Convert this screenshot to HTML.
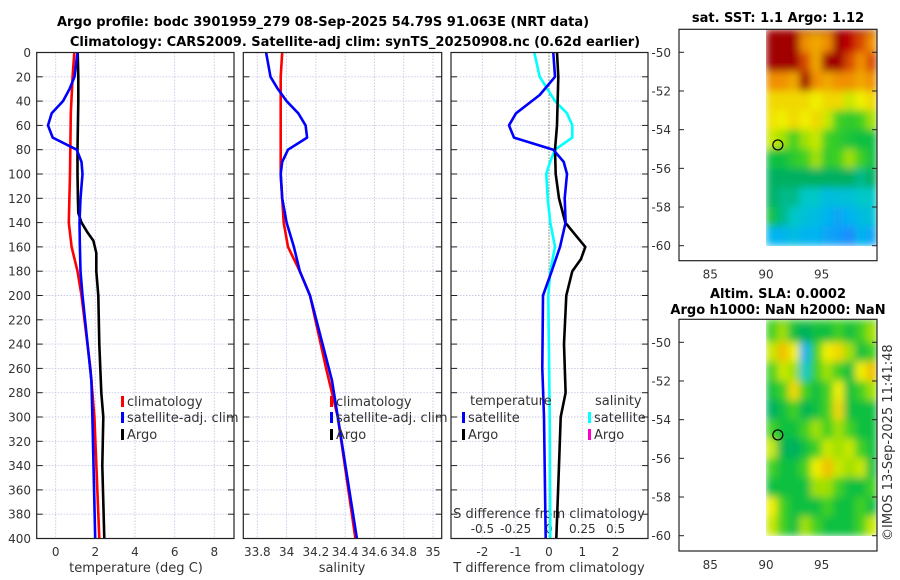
<!DOCTYPE html>
<html><head><meta charset="utf-8"><style>
html,body{margin:0;padding:0;background:#fff;}
svg{display:block;font-family:"DejaVu Sans","Liberation Sans",sans-serif;}
.tk{font-size:12px;fill:#333;}
.lb{font-size:13px;fill:#333;}
.tt{font-size:13px;font-weight:bold;fill:#000;}
.grid{stroke:#c6c8e6;stroke-width:0.9;stroke-dasharray:1.5,1.5;}
</style></head><body>
<svg id="fig" width="900" height="580" viewBox="0 0 900 580" xmlns="http://www.w3.org/2000/svg">
<defs>
<filter id="smooth" x="0" y="0" width="1" height="1" filterUnits="objectBoundingBox">
<feGaussianBlur stdDeviation="4" edgeMode="duplicate"/>
</filter>
</defs>
<text class="tt" x="323" y="26" text-anchor="middle">Argo profile: bodc 3901959_279 08-Sep-2025 54.79S 91.063E (NRT data)</text>
<text class="tt" x="355" y="46" text-anchor="middle">Climatology: CARS2009. Satellite-adj clim: synTS_20250908.nc (0.62d earlier)</text>
<g id="layer"></g>
<text class="tt" x="778" y="22" text-anchor="middle">sat. SST: 1.1 Argo: 1.12</text>
<text class="tt" x="778" y="298" text-anchor="middle">Altim. SLA: 0.0002</text>
<text class="tt" x="778" y="314" text-anchor="middle">Argo h1000: NaN h2000: NaN</text>
<text class="lb" x="0" y="0" transform="translate(892,541) rotate(-90)">©IMOS 13-Sep-2025 11:41:48</text>
</svg>
<script>
// ---- data ----
const depthTicks = [0,20,40,60,80,100,120,140,160,180,200,220,240,260,280,300,320,340,360,380,400];
const tempTicks = [0,2,4,6,8];
const salTicks = [33.8,34,34.2,34.4,34.6,34.8,35];
const salTickLabels = ["33.8","34","34.2","34.4","34.6","34.8","35"];
const tdiffTicks = [-2,-1,0,1,2];
const sdiffTicks = [-0.5,-0.25,0,0.25,0.5];
const sdiffTickLabels = ["-0.5","-0.25","0","0.25","0.5"];

const argoDepth = [0,20,40,60,80,100,120,132,140,148,155,165,180,200,240,280,300,340,400];
const argoTemp  = [1.11,1.14,1.14,1.12,1.1,1.1,1.12,1.14,1.3,1.6,1.9,2.05,2.05,2.15,2.2,2.3,2.4,2.35,2.45];

const climDepth = [0,20,50,100,140,160,180,200,260,300,400];
const climTemp  = [0.94,0.85,0.76,0.72,0.66,0.8,1.1,1.3,1.75,1.95,2.2];
const climSal   = [33.97,33.96,33.96,33.96,33.98,34.01,34.09,34.16,34.27,34.35,34.47];

const satDepth = [0,20,30,40,50,60,70,80,90,100,120,140,160,180,200,270,300,400];
const satTemp  = [1.1,0.95,0.7,0.37,-0.2,-0.39,-0.15,1.06,1.3,1.35,1.25,1.2,1.22,1.25,1.35,1.8,1.85,1.99];
const satSal   = [33.86,33.89,33.94,34.0,34.08,34.13,34.14,34.01,33.97,33.96,33.97,34.0,34.05,34.09,34.16,34.31,34.35,34.48];

const tdiffDepth = [0,20,35,50,60,70,80,90,100,120,140,160,180,200,260,300,400];
const satTdiff  = [0.13,0.18,-0.28,-0.99,-1.2,-1.05,0.13,0.44,0.54,0.47,0.5,0.33,0.08,-0.18,-0.2,-0.15,-0.1];
const argoTdiffDepth = [0,20,60,80,100,120,140,150,160,170,180,200,240,280,300,340,400];
const argoTdiff = [0.24,0.28,0.24,0.18,0.2,0.3,0.49,0.79,1.09,0.96,0.7,0.52,0.45,0.5,0.35,0.3,0.22];
const sdiffDepth = [0,20,40,50,60,70,80,90,100,120,140,160,180,200,300,400];
const satSdiff = [-0.11,-0.07,0.045,0.135,0.175,0.175,0.045,0.008,-0.02,-0.01,0.01,0.045,0.01,-0.005,0.005,0.01];

const mapLons = [90,91,92,93,94,95,96,97,98,99];
const mapLats = [-49,-50,-51,-52,-53,-54,-55,-56,-57,-58,-59];
const sstGrid = [
 [1,1,1,.85,.8,.85,1,.95,.9,.85],
 [1,1,1,.9,.8,1,1,.9,.85,.9],
 [.85,.85,.8,1,.85,.8,.85,.85,.8,.85],
 [.7,.7,.7,.7,.65,.7,.7,.6,.65,.7],
 [.68,.65,.7,.65,.7,.6,.5,.48,.5,.55],
 [.6,.55,.5,.55,.6,.5,.48,.46,.45,.45],
 [.45,.45,.48,.5,.55,.48,.5,.55,.5,.45],
 [.4,.4,.4,.4,.4,.4,.4,.4,.38,.4],
 [.4,.38,.38,.35,.35,.32,.33,.33,.35,.35],
 [.45,.38,.35,.33,.32,.3,.28,.3,.32,.33],
 [.3,.3,.32,.3,.3,.28,.27,.25,.3,.28]];
const slaGrid = [
 [.5,.55,.45,.4,.45,.45,.5,.45,.5,.55],
 [.6,.75,.65,.3,.5,.65,.7,.55,.45,.5],
 [.5,.6,.55,.35,.5,.55,.5,.45,.65,.75],
 [.45,.5,.7,.5,.45,.5,.65,.45,.5,.55],
 [.4,.45,.5,.42,.45,.5,.7,.45,.45,.45],
 [.5,.45,.45,.5,.55,.5,.55,.5,.45,.45],
 [.6,.42,.4,.45,.5,.6,.55,.6,.5,.45],
 [.5,.45,.45,.5,.65,.75,.6,.55,.6,.45],
 [.45,.45,.45,.45,.55,.55,.5,.45,.45,.5],
 [.65,.5,.45,.45,.45,.5,.45,.45,.5,.45],
 [.6,.5,.45,.55,.5,.45,.45,.45,.5,.6]];
const floatLon = 91.063, floatLat = -54.79;
const mapLatTicks = [-50,-52,-54,-56,-58,-60];
const mapLonTicks = [85,90,95];

// ---- helpers ----
const NS="http://www.w3.org/2000/svg";
const L=document.getElementById('layer');
function mk(tag,attrs,parent){const e=document.createElementNS(NS,tag);for(const k in attrs)e.setAttribute(k,attrs[k]);(parent||L).appendChild(e);return e;}
const yTop=52.5, yBot=538.5;
const yD = d => yTop + (d/400)*(yBot-yTop);
function lin(d0,d1,r0,r1){return v=>r0+(v-d0)/(d1-d0)*(r1-r0);}

const panels=[
 {name:'temperature-panel',x0:36.7,x1:234,sx:lin(0,8,55.7,214.3),grid:tempTicks},
 {name:'salinity-panel',x0:243.3,x1:441.7,sx:lin(33.8,35,257.3,433),grid:salTicks},
 {name:'difference-panel',x0:451,x1:648,sx:lin(0,1,549,582.3),grid:tdiffTicks}
];
panels.forEach((p,i)=>{
  const g=mk('g',{});
  
  
  p.g=g;
  p.grid.forEach(v=>{const l=mk('line',{x1:p.sx(v),x2:p.sx(v),y1:yTop,y2:yBot,class:'grid'},g);
    });
  depthTicks.forEach(d=>{const l=mk('line',{x1:p.x0,x2:p.x1,y1:yD(d),y2:yD(d),class:'grid'},g);
    
    const t1=mk('line',{x1:p.x0,x2:p.x0+6,y1:yD(d),y2:yD(d),stroke:'#222','stroke-width':1},g);
    
    const t2=mk('line',{x1:p.x1-6,x2:p.x1,y1:yD(d),y2:yD(d),stroke:'#222','stroke-width':1},g);
    
  });
});
depthTicks.forEach(d=>{const t=mk('text',{x:31,y:yD(d)+4.5,'text-anchor':'end',class:'tk'});t.textContent=d;
  });
tempTicks.forEach(v=>{const t=mk('text',{x:panels[0].sx(v),y:556,'text-anchor':'middle',class:'tk'});t.textContent=v;
  });
salTicks.forEach((v,i)=>{const t=mk('text',{x:panels[1].sx(v),y:556,'text-anchor':'middle',class:'tk'});t.textContent=salTickLabels[i];
  });
tdiffTicks.forEach(v=>{const t=mk('text',{x:panels[2].sx(v),y:556,'text-anchor':'middle',class:'tk'});t.textContent=v;
  });
sdiffTicks.forEach((v,i)=>{const t=mk('text',{x:panels[2].sx(v*4),y:533,'text-anchor':'middle',class:'tk'});t.textContent=sdiffTickLabels[i];
  });
function txt(x,y,s,name,anchor,cls){const t=mk('text',{x:x,y:y,'text-anchor':anchor||'start',class:cls||'lb'});t.textContent=s;
  return t;}
txt(136,572,'temperature (deg C)','temperature-axis-title','middle');
txt(342,572,'salinity','salinity-axis-title','middle');
txt(549,572,'T difference from climatology','tdiff-axis-title','middle');
txt(549,518,'S difference from climatology','sdiff-axis-title','middle');

const zl=mk('line',{x1:panels[2].sx(0),x2:panels[2].sx(0),y1:yTop,y2:yBot,stroke:'#3a5a2a','stroke-width':1,'stroke-dasharray':'1,2'});


function series(p,vals,depths,color,name,w){
  const pts=vals.map((v,i)=>p.sx(v).toFixed(1)+','+yD(depths[i]).toFixed(1)).join(' ');
  const e=mk('polyline',{points:pts,fill:'none',stroke:color,'stroke-width':w||2.6,'stroke-linejoin':'round'});
  
  
}
series(panels[0],climTemp,climDepth,'#ff0000','climatology-temperature-line');
series(panels[0],argoTemp,argoDepth,'#000000','argo-temperature-line');
series(panels[0],satTemp,satDepth,'#0000ff','satellite-temperature-line');
series(panels[1],climSal,climDepth,'#ff0000','climatology-salinity-line');
series(panels[1],satSal,satDepth,'#0000ff','satellite-salinity-line');
series(panels[2],satSdiff.map(v=>v*4),sdiffDepth,'#00ffff','satellite-sdiff-line');
series(panels[2],argoTdiff,argoTdiffDepth,'#000000','argo-tdiff-line');
series(panels[2],satTdiff,tdiffDepth,'#0000ff','satellite-tdiff-line');

panels.forEach(p=>{const r=mk('rect',{x:p.x0,y:yTop,width:p.x1-p.x0,height:yBot-yTop,fill:'none',stroke:'#222','stroke-width':1.2});
  });

function legItem(x,y,color,label,name){
  const b=mk('rect',{x:x,y:y-10,width:3,height:11,fill:color});
  
  txt(x+6,y,label,name);
}
legItem(121,406,'#ff0000','climatology','legend-climatology');
legItem(121,422,'#0000ff','satellite-adj. clim','legend-satellite-adj');
legItem(121,439,'#000000','Argo','legend-argo');
legItem(330,406,'#ff0000','climatology','legend-climatology-sal');
legItem(330,422,'#0000ff','satellite-adj. clim','legend-satellite-adj-sal');
legItem(330,439,'#000000','Argo','legend-argo-sal');
txt(470,405,'temperature','legend-temperature-header');
legItem(462,422,'#0000ff','satellite','legend-temp-satellite');
legItem(462,439,'#000000','Argo','legend-temp-argo');
txt(595,405,'salinity','legend-salinity-header');
legItem(588,422,'#00ffff','satellite','legend-sal-satellite');
legItem(588,439,'#ff00cc','Argo','legend-sal-argo');

// ---- maps ----
const cstops=[[0.25,[26,140,255]],[0.3,[0,180,240]],[0.35,[0,200,200]],[0.4,[0,176,96]],[0.45,[16,192,64]],[0.5,[64,208,32]],[0.55,[160,224,0]],[0.65,[240,240,0]],[0.75,[240,192,0]],[0.85,[240,144,0]],[0.95,[192,0,0]],[1,[160,0,0]]];
function cmap(v){for(let i=1;i<cstops.length;i++){if(v<=cstops[i][0]){const a=cstops[i-1],b=cstops[i];const t=Math.max(0,(v-a[0])/(b[0]-a[0]));
  const c=a[1].map((x,k)=>Math.round(x+(b[1][k]-x)*t));return 'rgb('+c.join(',')+')';}}return 'rgb(160,0,0)';}
function drawMap(name,grid,top,lat50,lat60,bottom){
  const x0=679,x1=877;
  const sx=lin(85,95,710.3,821.7), sy=lin(-50,-60,lat50,lat60);
  const g=mk('g',{});
  
  
  const cg=mk('g',{filter:'url(#smooth)'},g);
  
  
  const fr=mk('rect',{x:sx(90),y:top,width:x1-sx(90),height:Math.max(0,sy(-49)-top)+1,fill:cmap(grid[0][0])},cg);
  
  grid.forEach((row,r)=>row.forEach((v,c)=>{
    const lon=mapLons[c], lat=mapLats[r];
    const ya=Math.max(top,sy(lat)), yb=sy(lat-1);
    const xa=sx(lon), xb=Math.min(x1,sx(lon+1));
    const e=mk('rect',{x:xa,y:ya,width:xb-xa+0.3,height:yb-ya+0.3,fill:cmap(v)},cg);
    
    
  }));
  const c=mk('circle',{cx:sx(floatLon),cy:sy(floatLat),r:5,fill:'none',stroke:'#000','stroke-width':1.2},g);
  
  const fr2=mk('rect',{x:x0,y:top,width:x1-x0,height:bottom-top,fill:'none',stroke:'#222','stroke-width':1.2},g);
  
  mapLatTicks.forEach(v=>{
    const t=mk('text',{x:671,y:sy(v)+4.5,'text-anchor':'end',class:'tk'},g);t.textContent=v;
    
    const a=mk('line',{x1:x0,x2:x0+5,y1:sy(v),y2:sy(v),stroke:'#222'},g);
    
    const b=mk('line',{x1:x1-5,x2:x1,y1:sy(v),y2:sy(v),stroke:'#222'},g);
    
  });
  mapLonTicks.forEach(v=>{
    const t=mk('text',{x:sx(v),y:bottom+18,'text-anchor':'middle',class:'tk'},g);t.textContent=v;
    
  });
}
drawMap('sst-map',sstGrid,29.3,52.3,245.7,260.7);
drawMap('sla-map',slaGrid,319.3,342.3,535.7,551);
</script>
</body></html>
